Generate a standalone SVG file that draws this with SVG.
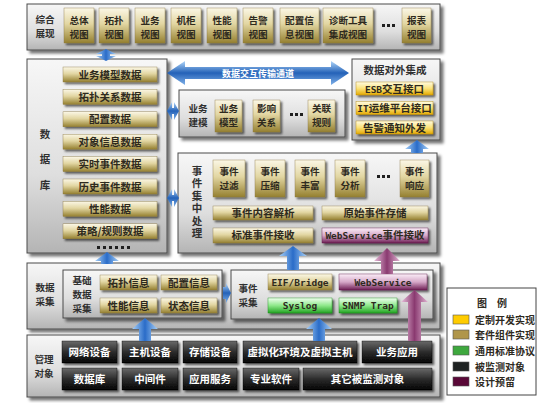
<svg xmlns="http://www.w3.org/2000/svg" width="553" height="403" viewBox="0 0 553 403">
<defs>
<linearGradient id="gPanel" x1="0" y1="0" x2="0" y2="1"><stop offset="0" stop-color="#f7f7f7"/><stop offset="0.6" stop-color="#dedede"/><stop offset="1" stop-color="#b4b4b4"/></linearGradient>
<linearGradient id="gGold" x1="0" y1="0" x2="0" y2="1"><stop offset="0" stop-color="#fbf7e6"/><stop offset="0.45" stop-color="#e2d6a2"/><stop offset="1" stop-color="#958030"/></linearGradient>
<linearGradient id="gYel" x1="0" y1="0" x2="0" y2="1"><stop offset="0" stop-color="#fffbe2"/><stop offset="0.5" stop-color="#fbe27a"/><stop offset="1" stop-color="#e5aa00"/></linearGradient>
<linearGradient id="gGrn" x1="0" y1="0" x2="0" y2="1"><stop offset="0" stop-color="#f0fff0"/><stop offset="0.5" stop-color="#8ee88a"/><stop offset="1" stop-color="#24a424"/></linearGradient>
<linearGradient id="gPur" x1="0" y1="0" x2="0" y2="1"><stop offset="0" stop-color="#fbeef8"/><stop offset="0.5" stop-color="#d6a8c8"/><stop offset="1" stop-color="#6e1e54"/></linearGradient>
<linearGradient id="gBlk" x1="0" y1="0" x2="0" y2="1"><stop offset="0" stop-color="#6a6a6a"/><stop offset="0.5" stop-color="#2c2c2c"/><stop offset="1" stop-color="#050505"/></linearGradient>
<linearGradient id="gBlueV" x1="0" y1="0" x2="1" y2="0"><stop offset="0" stop-color="#a8d0f6"/><stop offset="0.5" stop-color="#2a6cc8"/><stop offset="1" stop-color="#a8d0f6"/></linearGradient>
<linearGradient id="gBlueH" x1="0" y1="0" x2="0" y2="1"><stop offset="0" stop-color="#b0d6fa"/><stop offset="0.5" stop-color="#2462b8"/><stop offset="1" stop-color="#7eb0e8"/></linearGradient>
<linearGradient id="gPurV" x1="0" y1="0" x2="1" y2="0"><stop offset="0" stop-color="#e8c0dc"/><stop offset="0.5" stop-color="#8a3a70"/><stop offset="1" stop-color="#e0b4d2"/></linearGradient>
<filter id="shP" x="-5%" y="-5%" width="115%" height="125%"><feDropShadow dx="3" dy="3" stdDeviation="1.5" flood-color="#000" flood-opacity="0.55"/></filter>
<filter id="shT" x="-10%" y="-10%" width="130%" height="150%"><feDropShadow dx="2" dy="2" stdDeviation="1" flood-color="#000" flood-opacity="0.6"/></filter>
<style>
.p{fill:url(#gPanel);stroke:#4a4a4a;stroke-width:1;filter:url(#shP)}
.g{fill:url(#gGold);stroke:#8a7840;stroke-width:0.4;filter:url(#shT)}
.y{fill:url(#gYel);stroke:#b08400;stroke-width:0.4;filter:url(#shT)}
.gr{fill:url(#gGrn);stroke:#1a8a1a;stroke-width:0.4;filter:url(#shT)}
.pu{fill:url(#gPur);stroke:#5a1a44;stroke-width:0.4;filter:url(#shT)}
.bk{fill:url(#gBlk);stroke:#000;stroke-width:0.4;filter:url(#shT)}
.ab{fill:url(#gBlueV)}
.ah{fill:url(#gBlueH)}
.ap{fill:url(#gPurV)}
text{font-family:"Noto Sans CJK SC","Noto Sans CJK JP",sans-serif;font-weight:bold;font-size:10.5px;fill:#2e2a1e;text-anchor:middle}
.s{font-size:9.6px}
.w{fill:#ffffff}
.m{font-family:"DejaVu Sans Mono","Liberation Mono","Noto Sans CJK SC",monospace;font-size:9.5px}
.lbl{fill:#303030}
.vt{writing-mode:vertical-rl;text-orientation:upright}
.dot{fill:#202020}
.lg{text-anchor:start;font-size:10px}
</style>
</defs>

<!-- Top panel -->
<g id="display">
<rect class="p" x="27" y="4" width="413" height="46"/>
<text class="lbl s" x="45" y="23">综合<tspan x="45" dy="14">展现</tspan></text>
</g>
<g id="v1"><rect class="g" x="64" y="8" width="30" height="35"/><text class="s" x="79" y="23.5">总体<tspan x="79" dy="14">视图</tspan></text></g>
<g id="v2"><rect class="g" x="99" y="8" width="30" height="35"/><text class="s" x="114" y="23.5">拓扑<tspan x="114" dy="14">视图</tspan></text></g>
<g id="v3"><rect class="g" x="135" y="8" width="30" height="35"/><text class="s" x="150" y="23.5">业务<tspan x="150" dy="14">视图</tspan></text></g>
<g id="v4"><rect class="g" x="171" y="8" width="30" height="35"/><text class="s" x="186" y="23.5">机柜<tspan x="186" dy="14">视图</tspan></text></g>
<g id="v5"><rect class="g" x="207" y="8" width="30" height="35"/><text class="s" x="222" y="23.5">性能<tspan x="222" dy="14">视图</tspan></text></g>
<g id="v6"><rect class="g" x="243" y="8" width="30" height="35"/><text class="s" x="258" y="23.5">告警<tspan x="258" dy="14">视图</tspan></text></g>
<g id="v7"><rect class="g" x="280" y="8" width="39" height="35"/><text class="s" x="299.5" y="23.5">配置信<tspan x="299.5" dy="14">息视图</tspan></text></g>
<g id="v8"><rect class="g" x="323" y="8" width="50" height="35"/><text class="s" x="348" y="23.5">诊断工具<tspan x="348" dy="14">集成视图</tspan></text></g>
<g id="vdots"><rect class="dot" x="382" y="24" width="3" height="3"/><rect class="dot" x="387" y="24" width="3" height="3"/><rect class="dot" x="392" y="24" width="3" height="3"/></g>
<g id="v9"><rect class="g" x="402" y="8" width="29" height="35"/><text class="s" x="416.5" y="23.5">报表<tspan x="416.5" dy="14">视图</tspan></text></g>

<!-- Database -->
<g id="db">
<rect class="p" x="27" y="59" width="140" height="194"/>
<text class="lbl vt" x="45" y="167" style="letter-spacing:15px">数据库</text>
<g class="dot"><rect x="97" y="246" width="3" height="3"/><rect x="103" y="246" width="3" height="3"/><rect x="109" y="246" width="3" height="3"/><rect x="115" y="246" width="3" height="3"/><rect x="121" y="246" width="3" height="3"/><rect x="127" y="246" width="3" height="3"/></g>
</g>
<g id="db1"><rect class="g" x="63" y="67" width="94" height="15"/><text x="110" y="78.5">业务模型数据</text></g>
<g id="db2"><rect class="g" x="63" y="89.4" width="94" height="15"/><text x="110" y="100.9">拓扑关系数据</text></g>
<g id="db3"><rect class="g" x="63" y="111.8" width="94" height="15"/><text x="110" y="123.3">配置数据</text></g>
<g id="db4"><rect class="g" x="63" y="134.2" width="94" height="15"/><text x="110" y="145.7">对象信息数据</text></g>
<g id="db5"><rect class="g" x="63" y="156.6" width="94" height="15"/><text x="110" y="168.1">实时事件数据</text></g>
<g id="db6"><rect class="g" x="63" y="179" width="94" height="15"/><text x="110" y="190.5">历史事件数据</text></g>
<g id="db7"><rect class="g" x="63" y="201.4" width="94" height="15"/><text x="110" y="212.9">性能数据</text></g>
<g id="db8"><rect class="g" x="63" y="223.8" width="94" height="15"/><text x="110" y="235.3">策略/规则数据</text></g>

<!-- Business modelling -->
<g id="biz">
<rect class="p" x="179" y="90" width="166" height="47"/>
<text class="lbl s" x="198" y="112">业务<tspan x="198" dy="14">建模</tspan></text>
<g class="dot"><rect x="290" y="113" width="3" height="3"/><rect x="295" y="113" width="3" height="3"/><rect x="300" y="113" width="3" height="3"/></g>
</g>
<g id="biz1"><rect class="g" x="215" y="100" width="27" height="32"/><text class="s" x="228.5" y="112">业务<tspan x="228.5" dy="14">模型</tspan></text></g>
<g id="biz2"><rect class="g" x="253" y="100" width="27" height="32"/><text class="s" x="266.5" y="112">影响<tspan x="266.5" dy="14">关系</tspan></text></g>
<g id="biz3"><rect class="g" x="308" y="100" width="27" height="32"/><text class="s" x="321.5" y="112">关联<tspan x="321.5" dy="14">规则</tspan></text></g>

<!-- External integration -->
<g id="ext">
<rect class="p" x="352" y="59" width="88" height="81"/>
<text class="lbl" x="395" y="74">数据对外集成</text>
</g>
<g id="ext1"><rect class="y" x="356" y="82" width="77" height="13"/><text x="394.5" y="92.5"><tspan class="m">ESB</tspan>交互接口</text></g>
<g id="ext2"><rect class="y" x="356" y="101.5" width="77" height="13"/><text x="394.5" y="112"><tspan class="m">IT</tspan>运维平台接口</text></g>
<g id="ext3"><rect class="y" x="356" y="121" width="77" height="13"/><text x="394.5" y="131.5">告警通知外发</text></g>

<!-- Event processing -->
<g id="evp">
<rect class="p" x="178" y="153" width="259" height="100"/>
<text class="lbl vt" x="197" y="203" style="letter-spacing:2px">事件集中处理</text>
<g class="dot"><rect x="377" y="175" width="3" height="3"/><rect x="382" y="175" width="3" height="3"/><rect x="387" y="175" width="3" height="3"/></g>
</g>
<g id="ev1"><rect class="g" x="213" y="160" width="32" height="37"/><text class="s" x="229" y="175">事件<tspan x="229" dy="14">过滤</tspan></text></g>
<g id="ev2"><rect class="g" x="255" y="160" width="30" height="37"/><text class="s" x="270" y="175">事件<tspan x="270" dy="14">压缩</tspan></text></g>
<g id="ev3"><rect class="g" x="295" y="160" width="30" height="37"/><text class="s" x="310" y="175">事件<tspan x="310" dy="14">丰富</tspan></text></g>
<g id="ev4"><rect class="g" x="335" y="160" width="30" height="37"/><text class="s" x="350" y="175">事件<tspan x="350" dy="14">分析</tspan></text></g>
<g id="ev5"><rect class="g" x="400" y="160" width="29" height="37"/><text class="s" x="414.5" y="175">事件<tspan x="414.5" dy="14">响应</tspan></text></g>
<g id="ev6"><rect class="g" x="213" y="206" width="100" height="14"/><text x="263" y="216.5">事件内容解析</text></g>
<g id="ev7"><rect class="g" x="322" y="206" width="106" height="14"/><text x="375" y="216.5">原始事件存储</text></g>
<g id="ev8"><rect class="g" x="213" y="228" width="100" height="15"/><text x="263" y="239">标准事件接收</text></g>
<g id="ev9"><rect class="pu" x="322" y="228" width="106" height="15"/><text x="375" y="239"><tspan class="m">WebService</tspan>事件接收</text></g>

<!-- Data collection -->
<g id="coll">
<rect class="p" x="27" y="263" width="413" height="66"/>
<text class="lbl s" x="45" y="291">数据<tspan x="45" dy="14">采集</tspan></text>
</g>
<g id="basic">
<rect class="p" x="63" y="270" width="159" height="48"/>
<text class="lbl s" x="82" y="284">基础<tspan x="82" dy="14">数据</tspan><tspan x="82" dy="14">采集</tspan></text>
</g>
<g id="b1"><rect class="g" x="100" y="275" width="57" height="15"/><text x="128.5" y="286.5">拓扑信息</text></g>
<g id="b2"><rect class="g" x="161" y="275" width="56" height="15"/><text x="189" y="286.5">配置信息</text></g>
<g id="b3"><rect class="g" x="100" y="298" width="57" height="15"/><text x="128.5" y="309.5">性能信息</text></g>
<g id="b4"><rect class="g" x="161" y="298" width="56" height="15"/><text x="189" y="309.5">状态信息</text></g>
<g id="evc">
<rect class="p" x="231" y="270" width="202" height="49"/>
<text class="lbl s" x="248" y="292">事件<tspan x="248" dy="14">采集</tspan></text>
</g>
<g id="c1"><rect class="g" x="268" y="274" width="64" height="16"/><text class="m" x="300" y="285.5">EIF/Bridge</text></g>
<g id="c2"><rect class="pu" x="339" y="274" width="88" height="16"/><text class="m" x="383" y="285.5">WebService</text></g>
<g id="c3"><rect class="gr" x="268" y="298" width="64" height="15"/><text class="m" x="300" y="309">Syslog</text></g>
<g id="c4"><rect class="gr" x="339" y="298" width="58" height="15"/><text class="m" x="368" y="309">SNMP Trap</text></g>

<!-- Managed objects -->
<g id="mo">
<rect class="p" x="27" y="335" width="413" height="62"/>
<text class="lbl s" x="44" y="363">管理<tspan x="44" dy="14">对象</tspan></text>
</g>
<g id="m1"><rect class="bk" x="62" y="341" width="55" height="22"/><text class="w" x="89.5" y="356">网络设备</text></g>
<g id="m2"><rect class="bk" x="122" y="341" width="56" height="22"/><text class="w" x="150" y="356">主机设备</text></g>
<g id="m3"><rect class="bk" x="183" y="341" width="54" height="22"/><text class="w" x="210" y="356">存储设备</text></g>
<g id="m4"><rect class="bk" x="243" y="341" width="114" height="22"/><text class="w" x="300" y="356">虚拟化环境及虚拟主机</text></g>
<g id="m5"><rect class="bk" x="362" y="341" width="70" height="22"/><text class="w" x="397" y="356">业务应用</text></g>
<g id="m6"><rect class="bk" x="62" y="368" width="55" height="22"/><text class="w" x="89.5" y="383">数据库</text></g>
<g id="m7"><rect class="bk" x="122" y="368" width="56" height="22"/><text class="w" x="150" y="383">中间件</text></g>
<g id="m8"><rect class="bk" x="183" y="368" width="54" height="22"/><text class="w" x="210" y="383">应用服务</text></g>
<g id="m9"><rect class="bk" x="243" y="368" width="56" height="22"/><text class="w" x="271" y="383">专业软件</text></g>
<g id="m10"><rect class="bk" x="303" y="368" width="129" height="22"/><text class="w" x="367.5" y="383">其它被监测对象</text></g>

<!-- Connectors -->
<g id="connectors">
<polygon class="ab" points="106,49 116,54 110,54 110,56 116,56 106,61 96,56 102,56 102,54 96,54"/>
<polygon class="ah" points="167,73 185,61 185,67 331,67 331,61 349,73 331,85 331,79 185,79 185,85"/>
<text class="w" x="258" y="77" style="font-size:9px">数据交互传输通道</text>
<polygon class="ah" points="167,111 172,102 172,108 174,108 174,102 179,111 174,120 174,114 172,114 172,120"/>
<polygon class="ah" points="167,198 172,189 172,195 174,195 174,189 179,198 174,207 174,201 172,201 172,207"/>
<polygon class="ab" points="411,153 411,149 405,149 417,140 429,149 423,149 423,153"/>
<polygon class="ab" points="101,264 101,261 95,261 107,252 119,261 113,261 113,264"/>
<polygon class="ab" points="287,270 287,256 279,256 293,246 307,256 299,256 299,270"/>
<polygon class="ab" points="139,341 139,329 132,329 145,318 158,329 151,329 151,341"/>
<polygon class="ab" points="313,341 313,329 306,329 319,318 332,329 325,329 325,341"/>
<polygon class="ah" points="223,287 226,287 226,283 231,293 226,303 226,299 223,299"/>
<polygon class="ap" points="381,274 381,261 374,261 387,248 400,261 393,261 393,274"/>
<polygon class="ap" points="408,341 408,302 401,302 414.5,290 428,302 421,302 421,341"/>
</g>

<!-- Legend -->
<g id="legend">
<rect x="447" y="288" width="89" height="107" fill="#fff" stroke="#444" stroke-width="1"/>
<text x="492" y="307" style="font-size:10px">图　例</text>
<rect x="453" y="315" width="16" height="9" fill="#ffcc00" stroke="#555" stroke-width="0.6"/><text class="lg" x="475" y="323.5">定制开发实现</text>
<rect x="453" y="330" width="16" height="9" fill="#b0964a" stroke="#555" stroke-width="0.6"/><text class="lg" x="475" y="338.5">套件组件实现</text>
<rect x="453" y="346" width="16" height="9" fill="#3ea83e" stroke="#555" stroke-width="0.6"/><text class="lg" x="475" y="354.5">通用标准协议</text>
<rect x="453" y="362" width="16" height="9" fill="#1e2222" stroke="#555" stroke-width="0.6"/><text class="lg" x="475" y="370.5">被监测对象</text>
<rect x="453" y="377" width="16" height="9" fill="#5a0838" stroke="#555" stroke-width="0.6"/><text class="lg" x="475" y="385.5">设计预留</text>
</g>
</svg>
